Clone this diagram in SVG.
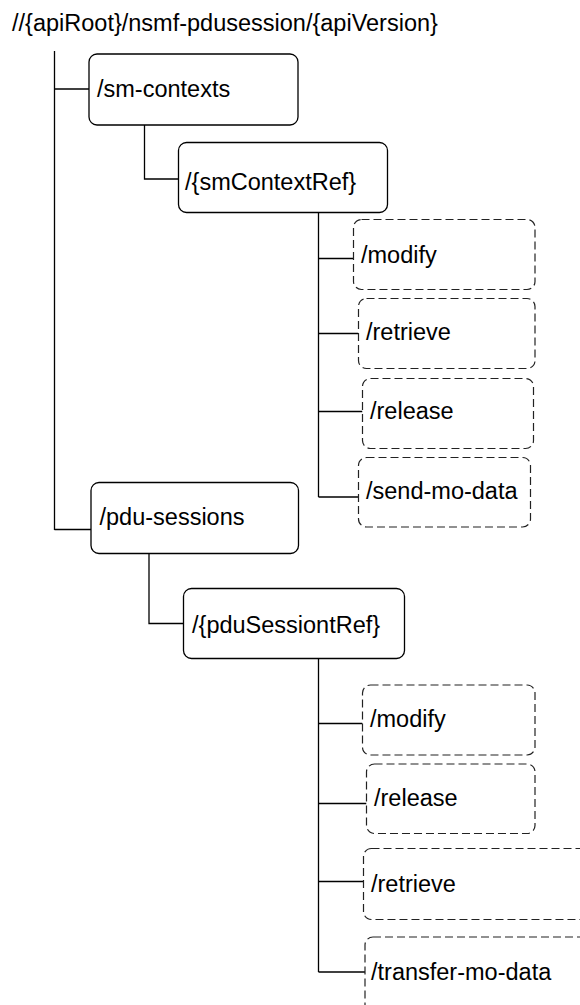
<svg xmlns="http://www.w3.org/2000/svg" width="580" height="1005" viewBox="0 0 580 1005">
<style>
text{font-family:"Liberation Sans",Arial,sans-serif;font-size:23.5px;fill:#000}
.n{fill:#fff;stroke:#000;stroke-width:1.3}
.d{fill:#fff;stroke:#222;stroke-width:1.2;stroke-dasharray:8 4}
.c{fill:none;stroke:#000;stroke-width:1.3}
</style>
<rect width="580" height="1005" fill="#fff"/>
<text x="12" y="31">//{apiRoot}/nsmf-pdusession/{apiVersion}</text>
<g id="connectors">
<path class="c" d="M54.5 51V530"/>
<path class="c" d="M54.5 89H89"/>
<path class="c" d="M54.5 529.5H91"/>
<path class="c" d="M144.5 125V179H178.5"/>
<path class="c" d="M318.5 212.5V497"/>
<path class="c" d="M318.5 258.5H353.5"/>
<path class="c" d="M318.5 333.5H358.5"/>
<path class="c" d="M318.5 411.5H362.5"/>
<path class="c" d="M318.5 497H358.5"/>
<path class="c" d="M149 553.5V623.5H183.5"/>
<path class="c" d="M318.5 658.5V972"/>
<path class="c" d="M318.5 723.5H362.5"/>
<path class="c" d="M318.5 803.5H366.5"/>
<path class="c" d="M318.5 881.5H363.5"/>
<path class="c" d="M318.5 972H365"/>
</g>
<g id="sm-contexts"><rect class="n" x="89" y="54" width="209" height="71" rx="8"/><text x="97" y="97">/sm-contexts</text></g>
<g id="smContextRef"><rect class="n" x="178.5" y="142.5" width="209" height="70" rx="8"/><text x="185" y="189.5">/{smContextRef}</text></g>
<g id="sm-modify"><rect class="d" x="353.5" y="219.5" width="181.5" height="70" rx="8"/><text x="361" y="263">/modify</text></g>
<g id="sm-retrieve"><rect class="d" x="358.5" y="298.5" width="176.5" height="70" rx="8"/><text x="366" y="340">/retrieve</text></g>
<g id="sm-release"><rect class="d" x="362.5" y="378.5" width="171" height="70" rx="8"/><text x="370" y="419">/release</text></g>
<g id="sm-send-mo-data"><rect class="d" x="358.5" y="457.5" width="172" height="69.5" rx="8"/><text x="366" y="499">/send-mo-data</text></g>
<g id="pdu-sessions"><rect class="n" x="91" y="482.5" width="207.5" height="71" rx="8"/><text x="99.5" y="525">/pdu-sessions</text></g>
<g id="pduSessiontRef"><rect class="n" x="183.5" y="588.5" width="221" height="70" rx="8"/><text x="192" y="633">/{pduSessiontRef}</text></g>
<g id="pdu-modify"><rect class="d" x="362.5" y="685" width="172.5" height="70" rx="8"/><text x="370" y="727">/modify</text></g>
<g id="pdu-release"><rect class="d" x="366.5" y="764" width="168.5" height="69.5" rx="8"/><text x="374" y="806">/release</text></g>
<g id="pdu-retrieve"><rect class="d" x="363.5" y="848.5" width="300" height="71" rx="8"/><text x="371" y="892">/retrieve</text></g>
<g id="pdu-transfer-mo-data"><rect class="d" x="365" y="937" width="300" height="100" rx="8"/><text x="371" y="980">/transfer-mo-data</text></g>
</svg>
